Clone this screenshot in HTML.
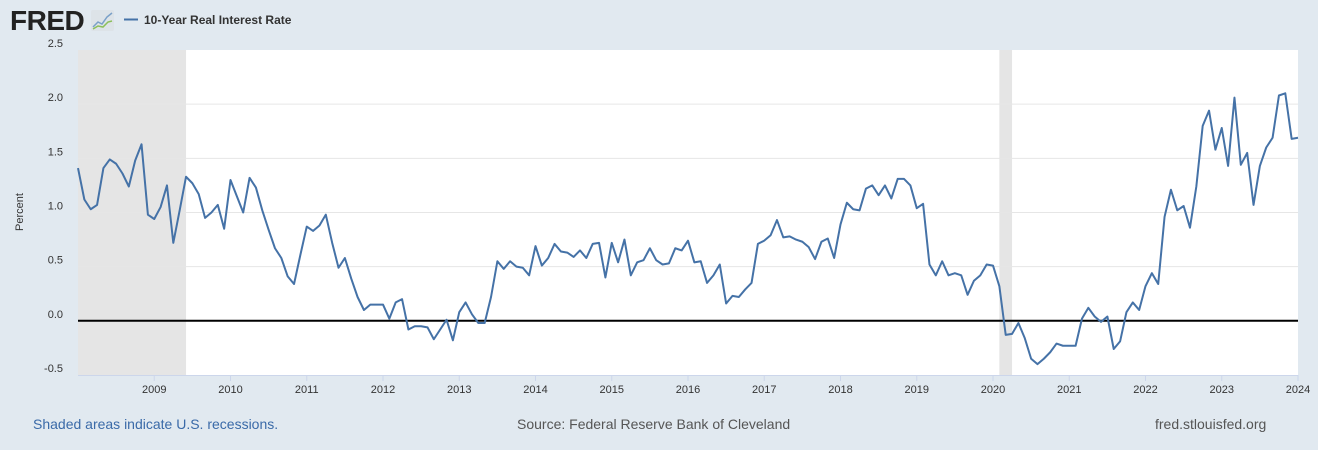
<!DOCTYPE html>
<html><head><meta charset="utf-8"><style>
body{margin:0;width:1318px;height:450px;background:#e1e9f0;font-family:"Liberation Sans",sans-serif;overflow:hidden}
svg{display:block}
</style></head><body>
<svg id="chart" width="1318" height="450">
<g>
<text x="10" y="30" font-size="28" font-weight="bold" fill="#222" letter-spacing="-0.5">FRED</text>
<rect x="91" y="10" width="23" height="21" fill="#dde3e8" rx="2"/>
<polyline points="93,27 98,22 102,24 107,17 112,13" fill="none" stroke="#7aa0c8" stroke-width="1.5"/>
<polyline points="93,29 98,26 103,27 108,22 112,21" fill="none" stroke="#8cbf5a" stroke-width="1.5"/>
</g>
<g>
<line x1="124" y1="19.5" x2="138" y2="19.5" stroke="#4572a7" stroke-width="2"/>
<text x="144" y="24" font-size="12" font-weight="bold" fill="#333">10-Year Real Interest Rate</text>
</g>
<rect x="78" y="50" width="1220" height="325" fill="#fff"/>
<g id="rec"></g><g id="grid"></g><g id="yt"></g><g id="xt"></g>
<line x1="78" y1="375.5" x2="1298" y2="375.5" stroke="#ccd6eb" stroke-width="1"/>
<line x1="78" y1="320.8" x2="1298" y2="320.8" stroke="#000" stroke-width="2"/>
<path id="ln" fill="none" stroke="#4572a7" stroke-width="2" stroke-linejoin="round"/>
<text transform="translate(23,212) rotate(-90)" text-anchor="middle" font-size="11" fill="#333">Percent</text>
<text x="33" y="429" font-size="14" fill="#3a6aa8">Shaded areas indicate U.S. recessions.</text>
<text x="517" y="429" font-size="14" fill="#555">Source: Federal Reserve Bank of Cleveland</text>
<text x="1155" y="429" font-size="14" fill="#555">fred.stlouisfed.org</text>
</svg>
<script>
const values=[1.41,1.12,1.03,1.07,1.41,1.49,1.45,1.36,1.24,1.48,1.63,0.98,0.94,1.05,1.25,0.72,1.02,1.33,1.27,1.17,0.95,1.00,1.07,0.85,1.30,1.15,1.00,1.32,1.23,1.02,0.84,0.67,0.58,0.41,0.34,0.61,0.87,0.83,0.88,0.98,0.72,0.49,0.58,0.39,0.22,0.10,0.15,0.15,0.15,0.02,0.17,0.20,-0.08,-0.05,-0.05,-0.06,-0.17,-0.08,0.01,
-0.18,0.08,0.17,0.06,-0.02,-0.02,0.22,0.55,0.48,0.55,0.50,0.49,0.42,0.69,0.51,0.58,0.71,0.64,0.63,0.59,0.65,0.58,0.71,0.72,0.40,0.72,0.54,0.75,0.42,0.54,0.56,0.67,0.56,0.52,0.53,0.67,0.65,0.74,0.54,0.55,0.35,0.42,0.52,0.16,0.23,0.22,0.29,0.35,0.71,0.74,0.79,0.93,0.77,0.78,0.75,0.73,0.68,0.57,0.73,0.76,0.58,0.89,1.09,1.03,1.02,
1.22,1.25,1.16,1.25,1.13,1.31,1.31,1.25,1.04,1.08,0.52,0.42,0.55,0.42,0.44,0.42,0.24,0.37,0.42,0.52,0.51,0.32,-0.13,-0.12,-0.02,-0.16,-0.35,-0.40,-0.35,-0.29,-0.21,-0.23,-0.23,-0.23,0.02,0.12,0.04,-0.01,0.04,-0.26,-0.19,0.08,0.17,0.10,0.32,0.44,0.34,0.96,1.21,1.02,1.06,0.86,1.24,1.80,1.94,1.58,1.78,1.43,2.06,1.44,1.55,1.07,1.43,1.60,1.69,2.08,2.10,1.68,1.69];
const startYear=2008;
const yTicks=[-0.5,0.0,0.5,1.0,1.5,2.0,2.5];
const xTickYears=[2009,2010,2011,2012,2013,2014,2015,2016,2017,2018,2019,2020,2021,2022,2023,2024];
const recessionStarts=[2007.917,2020.083];
const recessionEnds=[2009.417,2020.25];
const X0=78,X1=1298,Y0=50,Y1=375,YMIN=-0.5,YMAX=2.5,XMIN=2008,XMAX=2024;
const xs=t=>X0+(t-XMIN)/(XMAX-XMIN)*(X1-X0);
const ys=v=>Y1-(v-YMIN)/(YMAX-YMIN)*(Y1-Y0);
const NS="http://www.w3.org/2000/svg";
function mk(tag,attrs,parent){const e=document.createElementNS(NS,tag);for(const k in attrs)e.setAttribute(k,attrs[k]);document.getElementById(parent).appendChild(e);return e;}
recessionStarts.forEach((s,i)=>{const a=xs(Math.max(s,XMIN)),b=xs(recessionEnds[i]);
const r=mk('rect',{x:a,y:Y0,width:b-a,height:Y1-Y0,fill:'#e5e5e5'},'rec');

});
yTicks.forEach(v=>{const y=ys(v);
if(v>0&&v<2.5){const g=mk('line',{x1:X0,x2:X1,y1:y,y2:y,stroke:'#e6e6e6','stroke-width':1},'grid');

}
const t=mk('text',{x:63,y:y-3,'text-anchor':'end','font-size':11,fill:'#333'},'yt');t.textContent=v.toFixed(1);

});
xTickYears.forEach(yr=>{const x=xs(yr);
const l=mk('line',{x1:x,x2:x,y1:Y1,y2:Y1+6,stroke:'#ccd6eb'},'xt');


const t=mk('text',{x:x,y:393,'text-anchor':'middle','font-size':11,fill:'#333'},'xt');t.textContent=yr;

});
document.getElementById('ln').setAttribute('d',values.map((v,i)=>(i?'L':'M')+xs(startYear+i/12).toFixed(2)+','+ys(v).toFixed(2)).join(''));
</script>
</body></html>
